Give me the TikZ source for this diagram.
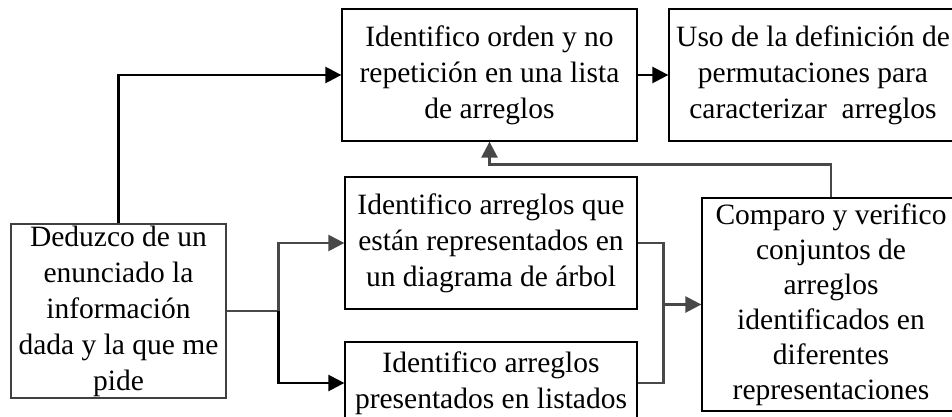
\documentclass[tikz,border=0pt]{standalone}
\usepackage{fontspec}
\setmainfont{Liberation Serif}
\usepackage{xcolor}
\usepackage{tikz}
\usetikzlibrary{
    positioning,
    arrows.meta,
    calc
}
\definecolor{linegray}{HTML}{484848}

\begin{document}
\begin{tikzpicture}[x=1pt, y=-1pt,
        box/.style={draw, line width=1.3pt, inner sep=0pt, align=center,
            font=\fontsize{29.5}{36}\selectfont},
        conn/.style={line width=2.5pt, -{Triangle[length=16pt, width=16pt]}}]
        \useasboundingbox (0,0) rectangle (952,417);
        \clip (0,0) rectangle (952,417);
        % cajas
        \node[box, minimum width=295pt, minimum height=132pt] (orden) at (489.5,75)
            {Identifico orden y no\\repetición en una lista\\de arreglos};
        \node[box, minimum width=288pt, minimum height=132pt] (perm) at (813,75)
            {Uso de la definición de\\permutaciones para\\caracterizar\ \ arreglos};
        \node[box, minimum width=292pt, minimum height=132pt] (arbol) at (491,243)
            {Identifico arreglos que\\están representados en\\un diagrama de árbol};
        \node[box, minimum width=292pt, minimum height=82pt] (lista) at (491,383)
            {Identifico arreglos\\presentados en listados};
        \node[box, draw=black!75, minimum width=215pt, minimum height=174pt] (deduzco) at (118.5,311)
            {Deduzco de un\\enunciado la\\información\\dada y la que me\\pide};
        \node[box, minimum width=258pt, minimum height=213pt,
            font=\fontsize{29.5}{35}\selectfont] (comparo) at (831,304.5)
            {Comparo y verifico\\conjuntos de\\arreglos\\identificados en\\diferentes\\representaciones};
        % conectores
        \coordinate (split) at ($(deduzco.east)+(52,0)$);
        \coordinate (join) at ($(arbol.east)+(26,0)$);
        \draw[conn] (deduzco.north) |- (orden.west);
        \draw[conn] (orden.east) -- (perm.west);
        \draw[line width=2.5pt, linegray] (deduzco.east) -- (split);
        \draw[conn, linegray] (split) |- (arbol.west);
        \draw[conn] (split) |- (lista.west);
        \draw[line width=2.5pt, linegray] (arbol.east) -| (join) |- (lista.east);
        \draw[conn, linegray] (join |- comparo.west) -- (comparo.west);
        \draw[conn, linegray] (comparo.north) -- ++(0,-33) -| (orden.south);
    \end{tikzpicture}
\end{document}
